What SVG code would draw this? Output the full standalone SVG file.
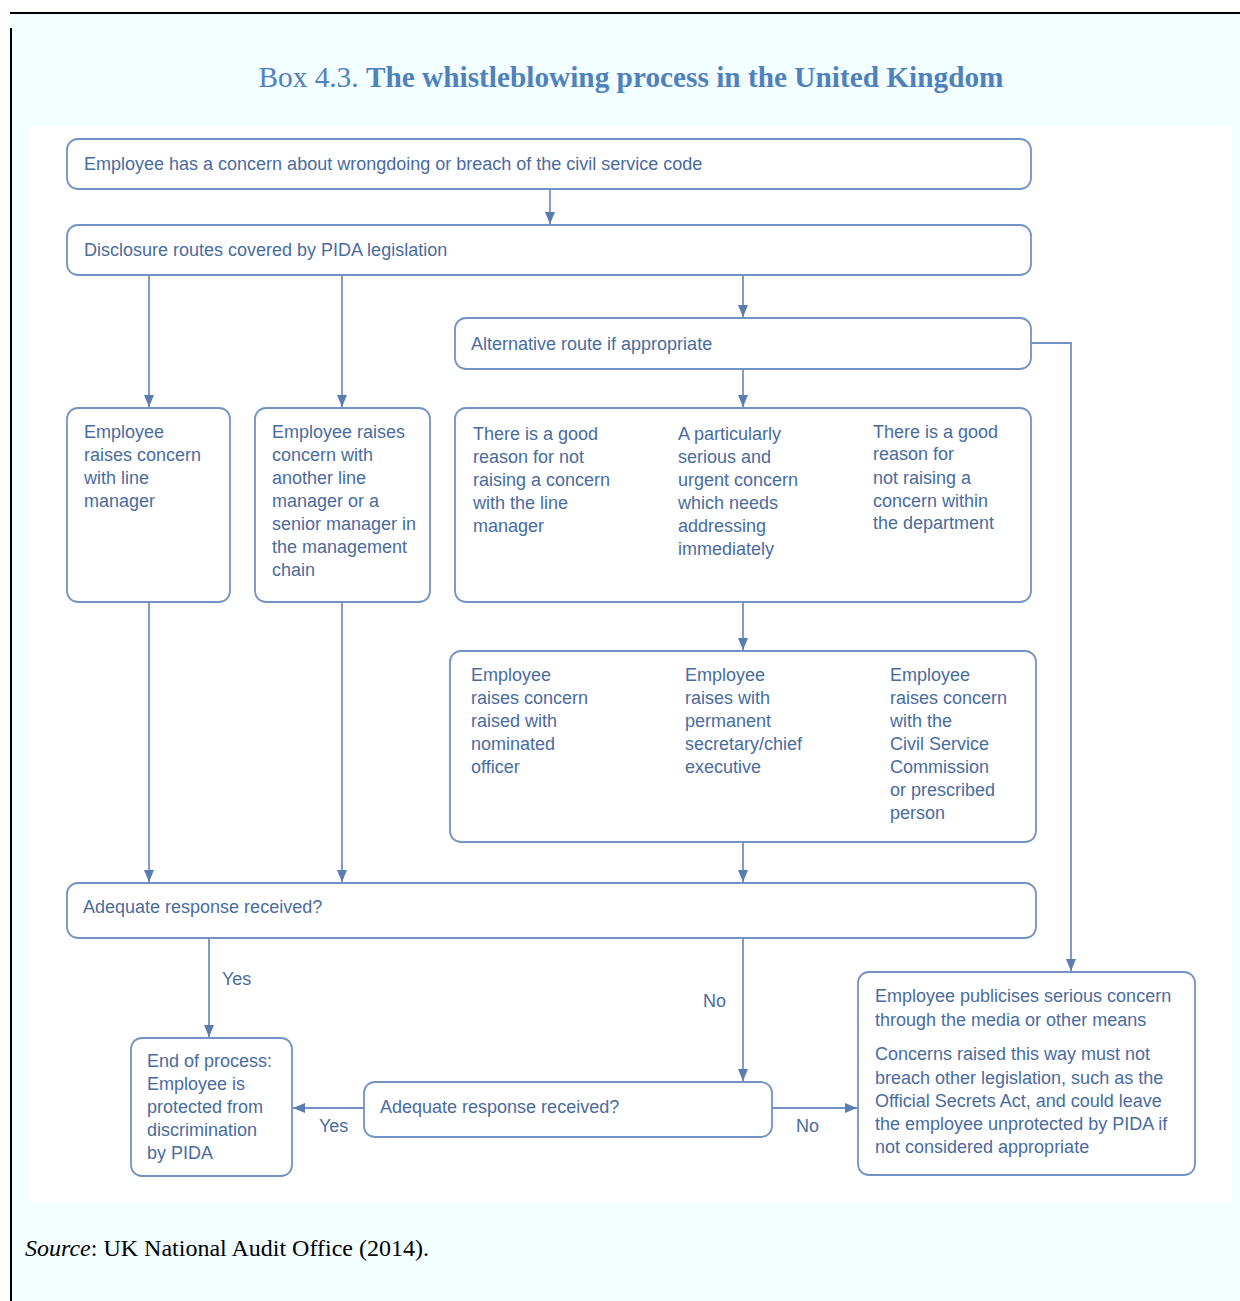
<svg xmlns="http://www.w3.org/2000/svg" width="1240" height="1301" viewBox="0 0 1240 1301">
<defs>
<style>
.bx{fill:#ffffff;stroke:#7393c4;stroke-width:1.8}
.t{font-family:"Liberation Sans",Arial,sans-serif;font-size:18px;fill:#4a6b9e}
.ln{fill:none;stroke:#7393c4;stroke-width:1.8}
</style>
<marker id="ah" viewBox="0 0 12 10" refX="12" refY="5" markerWidth="12" markerHeight="10" markerUnits="userSpaceOnUse" orient="auto">
<path d="M0,0 L12,5 L0,10 Z" fill="#5a7cb0"/>
</marker>
</defs>
<rect x="0" y="0" width="1240" height="1301" fill="#ffffff"/>
<rect x="11" y="13" width="1229" height="1288" fill="#f2feff"/>
<line x1="10" y1="13" x2="1240" y2="13" stroke="#000" stroke-width="2"/>
<line x1="11" y1="28" x2="11" y2="1301" stroke="#000" stroke-width="2"/>
<rect x="30" y="126" width="1202" height="1077" fill="#ffffff"/>
<text x="631" y="87" text-anchor="middle" font-family="'Liberation Serif','Times New Roman',serif" font-size="29.3" fill="#4f81bd">Box 4.3. <tspan font-weight="bold">The whistleblowing process in the United Kingdom</tspan></text>
<text x="25" y="1256" font-family="'Liberation Serif','Times New Roman',serif" font-size="24" fill="#000"><tspan font-style="italic">Source</tspan>: UK National Audit Office (2014).</text>

<g id="connectors">
<line class="ln" x1="550" y1="189" x2="550" y2="224" marker-end="url(#ah)"/>
<line class="ln" x1="149" y1="275" x2="149" y2="407" marker-end="url(#ah)"/>
<line class="ln" x1="342" y1="275" x2="342" y2="407" marker-end="url(#ah)"/>
<line class="ln" x1="743" y1="275" x2="743" y2="317" marker-end="url(#ah)"/>
<line class="ln" x1="743" y1="369" x2="743" y2="407" marker-end="url(#ah)"/>
<polyline class="ln" points="1031,343 1071,343 1071,971" marker-end="url(#ah)"/>
<line class="ln" x1="743" y1="602" x2="743" y2="650" marker-end="url(#ah)"/>
<line class="ln" x1="149" y1="602" x2="149" y2="882" marker-end="url(#ah)"/>
<line class="ln" x1="342" y1="602" x2="342" y2="882" marker-end="url(#ah)"/>
<line class="ln" x1="743" y1="842" x2="743" y2="882" marker-end="url(#ah)"/>
<line class="ln" x1="209" y1="938" x2="209" y2="1037" marker-end="url(#ah)"/>
<line class="ln" x1="743" y1="938" x2="743" y2="1081" marker-end="url(#ah)"/>
<line class="ln" x1="364" y1="1108" x2="293" y2="1108" marker-end="url(#ah)"/>
<line class="ln" x1="772" y1="1108" x2="857" y2="1108" marker-end="url(#ah)"/>
<text class="t" x="222" y="985">Yes</text>
<text class="t" x="703" y="1007">No</text>
<text class="t" x="319" y="1132">Yes</text>
<text class="t" x="796" y="1132">No</text>
</g>

<g id="n1">
<rect class="bx" x="67" y="139" width="964" height="50" rx="11"/>
<text class="t" x="84" y="170">Employee has a concern about wrongdoing or breach of the civil service code</text>
</g>
<g id="n2">
<rect class="bx" x="67" y="225" width="964" height="50" rx="11"/>
<text class="t" x="84" y="256">Disclosure routes covered by PIDA legislation</text>
</g>
<g id="n3">
<rect class="bx" x="455" y="318" width="576" height="51" rx="11"/>
<text class="t" x="471" y="350">Alternative route if appropriate</text>
</g>
<g id="n4">
<rect class="bx" x="67" y="408" width="163" height="194" rx="11"/>
<text class="t"><tspan x="84" y="438">Employee</tspan><tspan x="84" y="461">raises concern</tspan><tspan x="84" y="484">with line</tspan><tspan x="84" y="507">manager</tspan></text>
</g>
<g id="n5">
<rect class="bx" x="255" y="408" width="175" height="194" rx="11"/>
<text class="t"><tspan x="272" y="438">Employee raises</tspan><tspan x="272" y="461">concern with</tspan><tspan x="272" y="484">another line</tspan><tspan x="272" y="507">manager or a</tspan><tspan x="272" y="530">senior manager in</tspan><tspan x="272" y="553">the management</tspan><tspan x="272" y="576">chain</tspan></text>
</g>
<g id="n6">
<rect class="bx" x="455" y="408" width="576" height="194" rx="11"/>
<text class="t"><tspan x="473" y="440">There is a good</tspan><tspan x="473" y="463">reason for not</tspan><tspan x="473" y="486">raising a concern</tspan><tspan x="473" y="509">with the line</tspan><tspan x="473" y="532">manager</tspan></text>
<text class="t"><tspan x="678" y="440">A particularly</tspan><tspan x="678" y="463">serious and</tspan><tspan x="678" y="486">urgent concern</tspan><tspan x="678" y="509">which needs</tspan><tspan x="678" y="532">addressing</tspan><tspan x="678" y="555">immediately</tspan></text>
<text class="t"><tspan x="873" y="438">There is a good</tspan><tspan x="873" y="460">reason for</tspan><tspan x="873" y="484">not raising a</tspan><tspan x="873" y="507">concern within</tspan><tspan x="873" y="529">the department</tspan></text>
</g>
<g id="n7">
<rect class="bx" x="450" y="651" width="586" height="191" rx="11"/>
<text class="t"><tspan x="471" y="681">Employee</tspan><tspan x="471" y="704">raises concern</tspan><tspan x="471" y="727">raised with</tspan><tspan x="471" y="750">nominated</tspan><tspan x="471" y="773">officer</tspan></text>
<text class="t"><tspan x="685" y="681">Employee</tspan><tspan x="685" y="704">raises with</tspan><tspan x="685" y="727">permanent</tspan><tspan x="685" y="750">secretary/chief</tspan><tspan x="685" y="773">executive</tspan></text>
<text class="t"><tspan x="890" y="681">Employee</tspan><tspan x="890" y="704">raises concern</tspan><tspan x="890" y="727">with the</tspan><tspan x="890" y="750">Civil Service</tspan><tspan x="890" y="773">Commission</tspan><tspan x="890" y="796">or prescribed</tspan><tspan x="890" y="819">person</tspan></text>
</g>
<g id="n8">
<rect class="bx" x="67" y="883" width="969" height="55" rx="11"/>
<text class="t" x="83" y="913">Adequate response received?</text>
</g>
<g id="n9">
<rect class="bx" x="131" y="1038" width="161" height="138" rx="11"/>
<text class="t"><tspan x="147" y="1067">End of process:</tspan><tspan x="147" y="1090">Employee is</tspan><tspan x="147" y="1113">protected from</tspan><tspan x="147" y="1136">discrimination</tspan><tspan x="147" y="1159">by PIDA</tspan></text>
</g>
<g id="n10">
<rect class="bx" x="364" y="1082" width="408" height="55" rx="11"/>
<text class="t" x="380" y="1113">Adequate response received?</text>
</g>
<g id="n11">
<rect class="bx" x="858" y="972" width="337" height="203" rx="11"/>
<text class="t"><tspan x="875" y="1002">Employee publicises serious concern</tspan><tspan x="875" y="1026">through the media or other means</tspan><tspan x="875" y="1060">Concerns raised this way must not</tspan><tspan x="875" y="1084">breach other legislation, such as the</tspan><tspan x="875" y="1107">Official Secrets Act, and could leave</tspan><tspan x="875" y="1130">the employee unprotected by PIDA if</tspan><tspan x="875" y="1153">not considered appropriate</tspan></text>
</g>
</svg>
